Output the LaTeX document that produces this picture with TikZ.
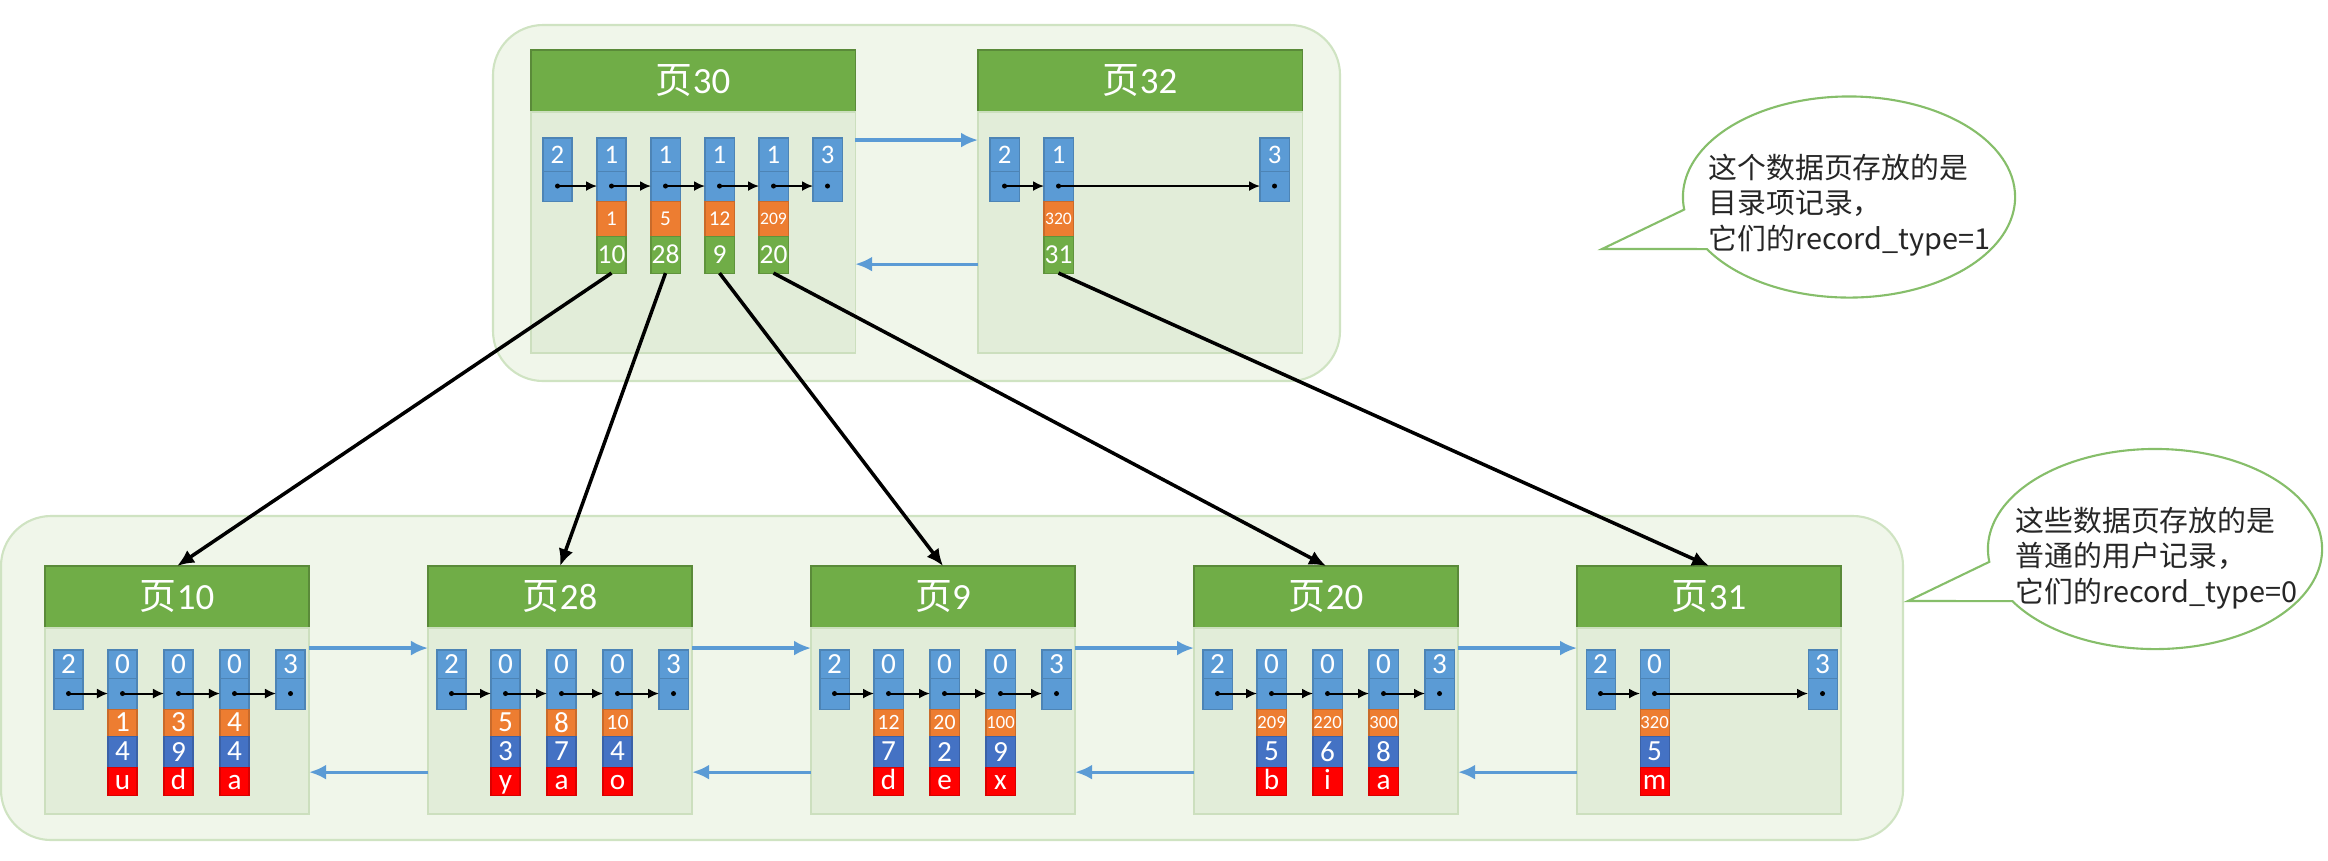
\documentclass[tikz,border=0pt]{standalone}
\usepackage{fontspec}
\setmainfont{Carlito}
\newfontfamily\cjk{Noto Sans CJK SC}
\usetikzlibrary{positioning,arrows.meta,shapes.callouts}
\definecolor{cellblue}{HTML}{5B9BD5}
\definecolor{keyorange}{HTML}{ED7D31}
\definecolor{pagegreen}{HTML}{70AD47}
\definecolor{colblue}{HTML}{4472C4}
\definecolor{chrred}{HTML}{FF0000}
\definecolor{groupfill}{HTML}{F0F6EA}
\definecolor{groupline}{HTML}{CFE3C2}
\definecolor{bodyfill}{HTML}{E2EDD9}
\definecolor{bodyline}{HTML}{CCDFBE}
\definecolor{noteline}{HTML}{86BE6A}
\tikzset{
  cellbox/.style={draw, inner sep=0pt, outer sep=0pt, minimum width=0.29cm, text=white, line width=0.3pt},
  numbox/.style={cellbox, draw=cellblue!85!black, fill=cellblue},
  topnum/.style={numbox, minimum height=0.33cm, font=\fontsize{7.6}{8}\selectfont},
  topptr/.style={numbox, minimum height=0.30cm},
  usernum/.style={numbox, minimum height=0.28cm, font=\fontsize{8.3}{9}\selectfont},
  userptr/.style={numbox, minimum height=0.31cm},
  keybox/.style={cellbox, draw=keyorange!85!black, fill=keyorange},
  pagebox/.style={cellbox, draw=pagegreen!85!black, fill=pagegreen, minimum height=0.37cm, font=\fontsize{7.8}{8}\selectfont},
  colbox/.style={cellbox, draw=colblue!85!black, fill=colblue, minimum height=0.31cm, font=\fontsize{8.3}{9}\selectfont},
  chrbox/.style={cellbox, draw=chrred!85!black, fill=chrred, minimum height=0.28cm, text height=5.5pt, text depth=1pt, font=\fontsize{8.3}{9}\selectfont},
  pagehead/.style={draw=pagegreen!80!black, fill=pagegreen, text=white, inner sep=0pt, outer sep=0pt, minimum height=0.62cm, font=\fontsize{10.5}{12}\selectfont},
  pagebody/.style={draw=bodyline, fill=bodyfill, inner sep=0pt, outer sep=0pt},
  pagegroup/.style={draw=groupline, fill=groupfill, line width=0.6pt, rounded corners=0.5cm},
  nextrec/.style={-{Latex[length=0.11cm,width=0.1cm]}, line width=0.55pt},
  siblink/.style={-{Latex[length=0.17cm,width=0.15cm]}, draw=cellblue, line width=0.9pt},
  downlink/.style={-{Latex[length=0.17cm,width=0.15cm]}, line width=1pt},
  note/.style={ellipse callout, draw=noteline, fill=white, line width=0.6pt, inner sep=0pt, callout pointer arc=24},
  notetext/.style={align=left, text=black!85, font=\cjk\fontsize{8.2}{10}\selectfont, inner sep=0pt}
}
\begin{document}
\begin{tikzpicture}[x=0.01cm, y=-0.01cm]
\useasboundingbox (0,0) rectangle (2328,860);
\draw[pagegroup] (493,25) rectangle (1340,381);
\draw[pagegroup] (1,516) rectangle (1903,840);

\foreach \p/\px/\m/\recs in {30/531/4/{1/10/6,5/28/6,12/9/6,209/20/5}, 32/978/1/{320/31/5}} {
  \node[pagehead, minimum width=3.24cm, anchor=north west] (h\p) at (\px,50) {{\cjk 页}\p};
  \node[pagebody, minimum width=3.24cm, minimum height=2.41cm, below=0pt of h\p] (p\p) {};
  \node[topnum, anchor=north west] (n\p-0) at (\px+12,138) {2};
  \node[topptr, below=0pt of n\p-0] (r\p-0) {};
  \foreach \key/\val/\fs [count=\n, remember=\n as \lastn (initially 0)] in \recs {
    \node[topnum, anchor=north west] (n\p-\n) at (\px+12+54*\n,138) {1};
    \node[topptr, below=0pt of n\p-\n] (r\p-\n) {};
    \node[keybox, minimum height=0.35cm, below=0pt of r\p-\n, font=\fontsize{\fs}{\fs}\selectfont] (k\p-\n) {\key};
    \node[pagebox, below=0pt of k\p-\n] (g\p-\n) {\val};
    \draw[nextrec] (r\p-\lastn.center) -- (r\p-\n.west);
    \fill (r\p-\n.center) circle (0.025cm);
  }
  \node[topnum, anchor=north west] (n\p-s) at (\px+282,138) {3};
  \node[topptr, below=0pt of n\p-s] (r\p-s) {};
  \draw[nextrec] (r\p-\m.center) -- (r\p-s.west);
  \fill (r\p-0.center) circle (0.025cm);
  \fill (r\p-s.center) circle (0.025cm);
}

\foreach \p/\px/\m/\recs in {10/45/3/{1/4/u/8.3,3/9/d/8.3,4/4/a/8.3}, 28/428/3/{5/3/y/8.3,8/7/a/8.3,10/4/o/6.2}, 9/811/3/{12/7/d/6.2,20/2/e/6.2,100/9/x/5.3}, 20/1194/3/{209/5/b/5.3,220/6/i/5.3,300/8/a/5.3}, 31/1577/1/{320/5/m/5.3}} {
  \node[pagehead, minimum width=2.64cm, anchor=north west] (h\p) at (\px,566) {{\cjk 页}\p};
  \node[pagebody, minimum width=2.64cm, minimum height=1.86cm, below=0pt of h\p] (p\p) {};
  \node[usernum, anchor=north west] (n\p-0) at (\px+9,650) {2};
  \node[userptr, below=0pt of n\p-0] (r\p-0) {};
  \foreach \key/\val/\chr/\fs [count=\n, remember=\n as \lastn (initially 0)] in \recs {
    \node[usernum, anchor=north west] (n\p-\n) at (\px+7+56*\n,650) {0};
    \node[userptr, below=0pt of n\p-\n] (r\p-\n) {};
    \node[keybox, minimum height=0.27cm, below=0pt of r\p-\n, font=\fontsize{\fs}{\fs}\selectfont] (k\p-\n) {\key};
    \node[colbox, below=0pt of k\p-\n] (v\p-\n) {\val};
    \node[chrbox, below=0pt of v\p-\n] (c\p-\n) {\chr};
    \draw[nextrec] (r\p-\lastn.center) -- (r\p-\n.west);
    \fill (r\p-\n.center) circle (0.025cm);
  }
  \node[usernum, anchor=north west] (n\p-s) at (\px+231,650) {3};
  \node[userptr, below=0pt of n\p-s] (r\p-s) {};
  \draw[nextrec] (r\p-\m.center) -- (r\p-s.west);
  \fill (r\p-0.center) circle (0.025cm);
  \fill (r\p-s.center) circle (0.025cm);
}

\draw[siblink] ([yshift=-0.28cm]p30.north east) -- ([yshift=-0.28cm]p32.north west);
\draw[siblink] ([yshift=0.89cm]p32.south west) -- ([yshift=0.89cm]p30.south east);
\foreach \a/\b in {10/28, 28/9, 9/20, 20/31} {
  \draw[siblink] ([yshift=-0.2cm]p\a.north east) -- ([yshift=-0.2cm]p\b.north west);
  \draw[siblink] ([yshift=0.42cm]p\b.south west) -- ([yshift=0.42cm]p\a.south east);
}

\foreach \n/\c in {1/10, 2/28, 3/9, 4/20}
  \draw[downlink] (g30-\n.south) -- (h\c.north);
\draw[downlink] (g32-1.south) -- (h31.north);

\node[note, minimum width=3.32cm, minimum height=2.01cm, callout absolute pointer={(1602,249)}] (note1) at (1849,197) {};
\node[notetext, anchor=west] (note1text) at (1708,205) {这个数据页存放的是\\目录项记录，\\它们的record\_type=1};
\node[note, minimum width=3.34cm, minimum height=2.0cm, callout absolute pointer={(1908,601)}] (note2) at (2155,549) {};
\node[notetext, anchor=west] (note2text) at (2015,558) {这些数据页存放的是\\普通的用户记录，\\它们的record\_type=0};
\end{tikzpicture}
\end{document}
